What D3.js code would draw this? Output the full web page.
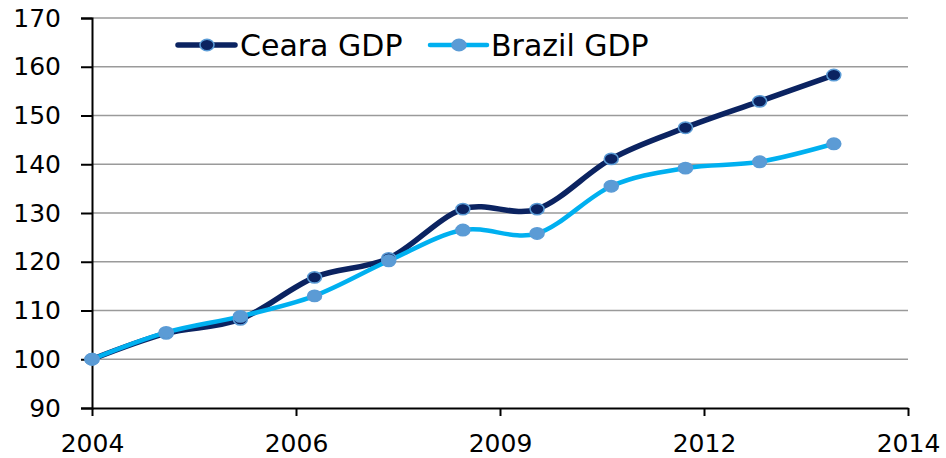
<!DOCTYPE html>
<html lang="en">
<head>
    <meta charset="UTF-8">
    <title>Ceara GDP vs Brazil GDP</title>
    <script src="https://d3js.org/d3.v7.min.js"></script>
    <style>
        body { margin: 0; background: #fff; }
        svg text { font-family: "DejaVu Sans", Verdana, sans-serif; fill: #000; }
    </style>
</head>
<body>
    <svg width="946" height="458"></svg>
    <script>
        // Données (index 2004 = 100)
        const years = [2004, 2005, 2006, 2007, 2008, 2009, 2010, 2011, 2012, 2013, 2014];
        const cearaGDP = [100, 105.3, 108.2, 116.8, 120.7, 130.8, 130.8, 141.1, 147.5, 152.9, 158.3];
        const brazilGDP = [100, 105.5, 108.8, 113.0, 120.2, 126.5, 125.8, 135.5, 139.2, 140.5, 144.2];
        const yTicks = [90, 100, 110, 120, 130, 140, 150, 160, 170];
        const xTickValues = [2004, 2006.75, 2009.5, 2012.25, 2015];
        const xTickLabels = ["2004", "2006", "2009", "2012", "2014"];

        const width = 946, height = 458;
        const margin = {top: 18, right: 38, bottom: 50, left: 92};

        const svg = d3.select("svg");

        const x = d3.scaleLinear()
            .domain([2004, 2015])
            .range([margin.left, width - margin.right]);

        const y = d3.scaleLinear()
            .domain([90, 170])
            .range([height - margin.bottom, margin.top]);

        // Grille
        svg.append("g")
            .selectAll("line")
            .data(yTicks.slice(1))
            .enter().append("line")
            .attr("x1", margin.left)
            .attr("x2", width - margin.right)
            .attr("y1", d => y(d))
            .attr("y2", d => y(d))
            .attr("stroke", "#9a9a9a")
            .attr("stroke-width", 1.5);

        // Axes
        const yAxis = svg.append("g")
            .attr("transform", `translate(${margin.left},0)`)
            .call(d3.axisLeft(y).tickValues(yTicks).tickSize(11).tickPadding(20));
        yAxis.select(".domain").attr("stroke", "#000").attr("stroke-width", 2);
        yAxis.selectAll(".tick line").attr("stroke", "#000").attr("stroke-width", 2);
        yAxis.selectAll("text").style("font-size", "25px");

        const xAxis = svg.append("g")
            .attr("transform", `translate(0,${height - margin.bottom})`)
            .call(d3.axisBottom(x).tickValues(xTickValues)
                .tickFormat((d, i) => xTickLabels[i]).tickSize(8).tickSizeOuter(0).tickPadding(18));
        xAxis.select(".domain").attr("stroke", "#000").attr("stroke-width", 2);
        xAxis.selectAll(".tick line").attr("stroke", "#000").attr("stroke-width", 2);
        xAxis.selectAll("text").style("font-size", "25px");

        // Séries
        const series = [
            {name: "Ceara GDP", values: cearaGDP, color: "#0b2361", width: 5.5,
             marker: "#0b2361", markerStroke: "#5b9bd5"},
            {name: "Brazil GDP", values: brazilGDP, color: "#00b0f0", width: 4.5,
             marker: "#5b9bd5", markerStroke: "#5b9bd5"}
        ];

        const line = d3.line()
            .x((d, i) => x(years[i]))
            .y(d => y(d))
            .curve(d3.curveCardinal.tension(0));

        series.forEach(s => {
            svg.append("path")
                .datum(s.values)
                .attr("fill", "none")
                .attr("stroke", s.color)
                .attr("stroke-width", s.width)
                .attr("stroke-linejoin", "round")
                .attr("d", line);
        });

        series.forEach(s => {
            svg.append("g")
                .selectAll("ellipse")
                .data(s.values)
                .enter().append("ellipse")
                .attr("cx", (d, i) => x(years[i]))
                .attr("cy", d => y(d))
                .attr("rx", 7)
                .attr("ry", 5.7)
                .attr("fill", s.marker)
                .attr("stroke", s.markerStroke)
                .attr("stroke-width", 1.5);
        });

        // Légende
        const legendItems = [
            {x: 178, textX: 240},
            {x: 430, textX: 491}
        ];
        series.forEach((s, i) => {
            const g = svg.append("g").attr("transform", `translate(${legendItems[i].x},45)`);
            g.append("line")
                .attr("x1", 0).attr("x2", 57)
                .attr("stroke", s.color)
                .attr("stroke-width", s.width)
                .attr("stroke-linecap", "round");
            g.append("ellipse")
                .attr("cx", 29).attr("cy", 0)
                .attr("rx", 7).attr("ry", 5.7)
                .attr("fill", s.marker)
                .attr("stroke", s.markerStroke)
                .attr("stroke-width", 1.5);
            svg.append("text")
                .attr("x", legendItems[i].textX)
                .attr("y", 45)
                .attr("dy", "0.36em")
                .style("font-size", "30px")
                .text(s.name);
        });
    </script>
</body>
</html>
